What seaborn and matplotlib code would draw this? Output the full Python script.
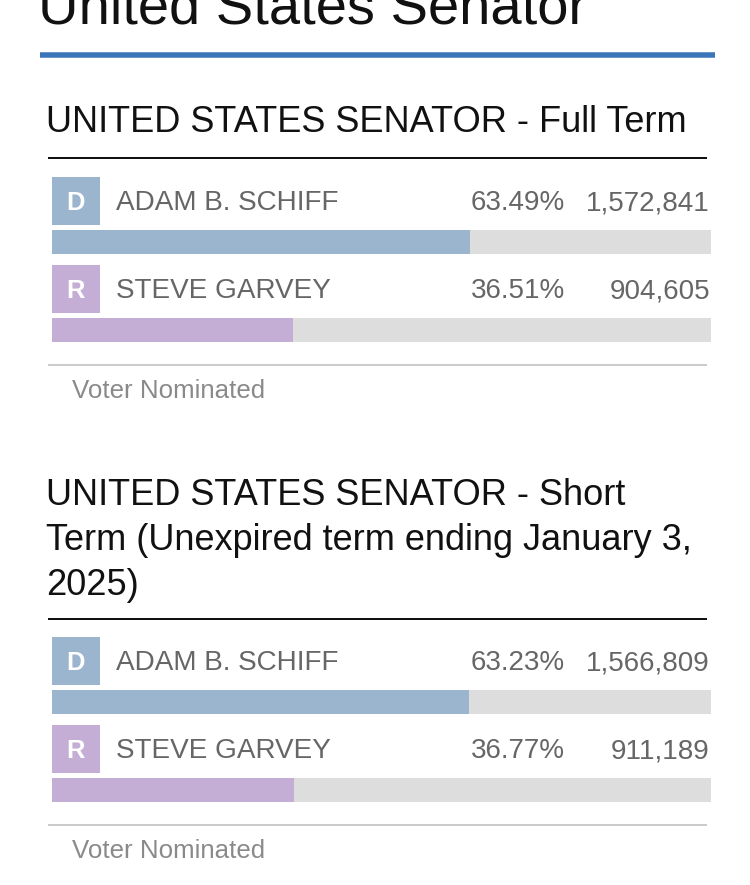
import matplotlib
matplotlib.use("Agg")
import matplotlib.pyplot as plt
from matplotlib.patches import Rectangle
import seaborn as sns
import pandas as pd

# ---------------- data ----------------
page_title = "United States Senator"
contest_titles = [
    ["UNITED STATES SENATOR - Full Term"],
    ["UNITED STATES SENATOR - Short", "Term (Unexpired term ending January 3,", "2025)"],
]
candidates = ["ADAM B. SCHIFF", "STEVE GARVEY"]
parties = ["D", "R"]
full_term_pct = [63.49, 36.51]
full_term_votes = [1572841, 904605]
short_term_pct = [63.23, 36.77]
short_term_votes = [1566809, 911189]
footer_label = "Voter Nominated"

# ---------------- style ----------------
sns.set_theme(style="white")
plt.rcParams["font.family"] = ["Liberation Sans", "DejaVu Sans"]

party_colors = {"D": "#9bb5cf", "R": "#c4aed6"}
track_color = "#dddddd"
name_color = "#666666"
footer_color = "#8a8a8a"

W, H = 750, 885
fig = plt.figure(figsize=(W / 100, H / 100), dpi=100)
fig.patch.set_facecolor("white")
ax = fig.add_axes([0, 0, 1, 1])
ax.set_xlim(0, W)
ax.set_ylim(H, 0)
ax.axis("off")

def px2pt(px):
    return px * 72 / 100

# page header (cut at the top edge, as in the reference)
ax.text(38, 23, page_title, fontsize=px2pt(56.2), color="#111111", va="baseline", ha="left")
ax.plot([40, 715], [54.5, 54.5], color="#3a74b9", lw=px2pt(5.5), solid_capstyle="butt")

sections = [
    dict(titles=contest_titles[0], pct=full_term_pct, votes=full_term_votes, offset=0, first_base=132, rule=158),
    dict(titles=contest_titles[1], pct=short_term_pct, votes=short_term_votes, offset=460, first_base=505, rule=619),
]

bar_left, bar_right = 52, 711
bar_h = 24
row_pitch = 88

for sec in sections:
    off = sec["offset"]
    for i, line in enumerate(sec["titles"]):
        ax.text(46, sec["first_base"] + i * 45, line, fontsize=px2pt(36.1),
                color="#111111", va="baseline", ha="left")
    ax.plot([48, 707], [sec["rule"], sec["rule"]], color="#111111", lw=px2pt(2), solid_capstyle="butt")

    for i, (name, party, p, v) in enumerate(zip(candidates, parties, sec["pct"], sec["votes"])):
        top = 177 + off + i * row_pitch
        cy = top + 24
        ax.add_patch(Rectangle((52, top), 48, 48, facecolor=party_colors[party], edgecolor="none"))
        ax.text(75.5, cy + 9.0, party, fontsize=px2pt(25.5), color="white", fontweight="bold",
                ha="center", va="baseline")
        ax.text(116, cy + 9.3, name, fontsize=px2pt(27.9), color=name_color, ha="left", va="baseline")
        ax.text(565, cy + 9.3, f"{p:.2f}%", fontsize=px2pt(27.7), color=name_color, ha="right", va="baseline")
        ax.text(710, cy + 9.3, f"{v:,}", fontsize=px2pt(27.7), color=name_color, ha="right", va="baseline")

    b_top = 230 + off
    b_bot = b_top + row_pitch + bar_h
    bax = fig.add_axes([bar_left / W, 1 - b_bot / H, (bar_right - bar_left) / W, (b_bot - b_top) / H])
    df = pd.DataFrame({"candidate": candidates, "party": parties, "pct": sec["pct"],
                       "track": [100.0] * len(candidates)})
    w = bar_h / row_pitch
    sns.barplot(data=df, x="track", y="candidate", color=track_color, width=w,
                orient="h", ax=bax, saturation=1, linewidth=0)
    sns.barplot(data=df, x="pct", y="candidate", hue="party", palette=party_colors,
                width=w, orient="h", ax=bax, saturation=1, linewidth=0, legend=False, dodge=False)
    bax.set_xlim(0, 100)
    bax.set_ylim(len(candidates) - 1 + w / 2, -w / 2)
    bax.axis("off")

    ax.plot([48, 707], [364.5 + off, 364.5 + off], color="#cccccc", lw=px2pt(2), solid_capstyle="butt")
    ax.text(72, 398 + off, footer_label, fontsize=px2pt(25.9), color=footer_color, ha="left", va="baseline")

fig.savefig("out.png", dpi=100, facecolor="white")
